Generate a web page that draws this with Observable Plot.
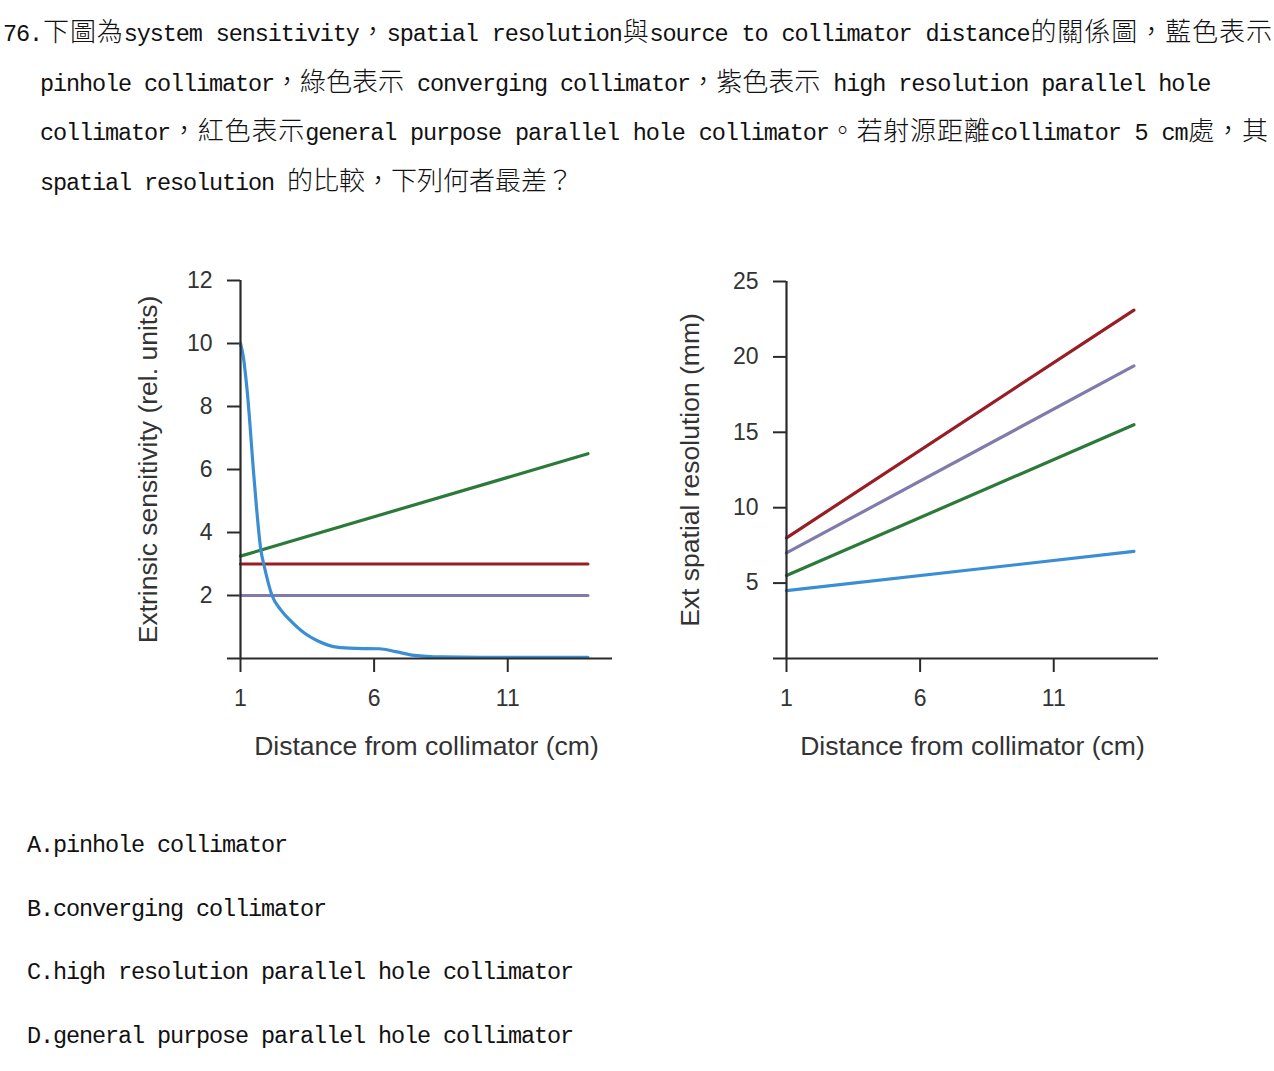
<!DOCTYPE html>
<html>
<head>
<meta charset="utf-8">
<script src="https://cdn.jsdelivr.net/npm/d3@7"></script>
<script src="https://cdn.jsdelivr.net/npm/@observablehq/plot@0.6"></script>
<style>
  html, body { margin: 0; padding: 0; background: #fff; }
  body { width: 1274px; height: 1071px; position: relative; overflow: hidden; }
  .q { position: absolute; font-family: "Noto Sans CJK TC", sans-serif; font-weight: 300; font-size: 26px; line-height: 50px; color: #111; white-space: nowrap; }
  .q.just { white-space: normal; text-align: justify; text-align-last: justify; }
  .lat { font-family: "Liberation Mono", monospace; font-weight: 400; font-size: 23.5px; letter-spacing: -1.1px; }
  .chart { position: absolute; }
</style>
</head>
<body>
<div id="root"></div>
<script>
// ---------- question text ----------
const questionLines = [
  "76.下圖為system sensitivity，spatial resolution與source to collimator distance的關係圖，藍色表示",
  "pinhole collimator，綠色表示 converging collimator，紫色表示 high resolution parallel hole",
  "collimator，紅色表示general purpose parallel hole collimator。若射源距離collimator 5 cm處，其",
  "spatial resolution 的比較，下列何者最差？"
];
const options = [
  "A.pinhole collimator",
  "B.converging collimator",
  "C.high resolution parallel hole collimator",
  "D.general purpose parallel hole collimator"
];

// ---------- chart data ----------
const xTicks = [1, 6, 11];
const sensTicks = [0, 2, 4, 6, 8, 10, 12];
const resTicks = [0, 5, 10, 15, 20, 25];

// Left: extrinsic sensitivity (rel. units)
const lineX = [1, 14];
const sensConverging = [3.25, 6.5];
const sensGeneral = [3, 3];
const sensHighRes = [2, 2];
const pinholeX =    [1,  1.1, 1.26, 1.5, 1.77, 1.87, 2.18, 2.5, 2.87, 3.4, 3.86, 4.6, 5.3, 6.2, 6.8, 7.5, 8.5, 10,   14];
const pinholeSens = [10, 9.6, 8.4,  5.8, 3.4,  3.0,  2.0,  1.55, 1.2, 0.8, 0.57, 0.36, 0.32, 0.31, 0.22, 0.1, 0.05, 0.04, 0.04];

// Right: extrinsic spatial resolution (mm)
const resGeneral = [8, 23.1];
const resHighRes = [7, 19.4];
const resConverging = [5.5, 15.5];
const resPinhole = [4.5, 7.1];

const colors = { pinhole: "#3a8ed3", converging: "#2c7a3a", highRes: "#7f7bab", general: "#981d24" };

// ---------- render text ----------
const cjk = /[\u2E80-\u9FFF\uF900-\uFAFF\uFF00-\uFFEF\u3000-\u303F]/;
function fill(el, str) {
  let cur = "", curC = null;
  const flush = () => {
    if (!cur) return;
    if (curC) el.appendChild(document.createTextNode(cur));
    else { const s = document.createElement("span"); s.className = "lat"; s.textContent = cur; el.appendChild(s); }
    cur = "";
  };
  for (const ch of str) {
    const c = cjk.test(ch);
    if (curC !== null && c !== curC) flush();
    curC = c; cur += ch;
  }
  flush();
}
const root = document.getElementById("root");
const qLayout = [
  { left: 3, top: 5, width: 1269, just: true },
  { left: 40, top: 55, just: false },
  { left: 40, top: 104, width: 1228, just: true },
  { left: 40, top: 154, just: false }
];
questionLines.forEach((t, i) => {
  const d = document.createElement("div");
  const L = qLayout[i];
  d.className = "q" + (L.just ? " just" : "");
  d.style.left = L.left + "px"; d.style.top = L.top + "px";
  if (L.width) d.style.width = L.width + "px";
  fill(d, t);
  root.appendChild(d);
});
const optTops = [816, 880, 943, 1007];
options.forEach((t, i) => {
  const d = document.createElement("div");
  d.className = "q";
  d.style.left = "27px"; d.style.top = optTops[i] + "px";
  fill(d, t);
  root.appendChild(d);
});

// ---------- charts ----------
const rows = (xs, ys) => xs.map((x, i) => ({ x, y: ys[i] }));
const axisColor = "#2a2a2a";
const baseStyle = { fontFamily: "'Liberation Sans', Arial, sans-serif", fontSize: "23px", color: "#333", background: "transparent", overflow: "visible" };

function chart({ left, width, marginLeft, marginRight, marginTop, yDomain, yTicks, yLabel, yLabelDx, series }) {
  const p = Plot.plot({
    width, height: 520,
    marginLeft, marginRight, marginTop, marginBottom: 122,
    style: baseStyle,
    x: { domain: [1, 14.92] },
    y: { domain: yDomain },
    marks: [
      Plot.axisY(yTicks, { tickSize: 13, tickPadding: 15, tickFormat: d => d === 0 ? "" : String(d), label: null, stroke: axisColor, strokeWidth: 2, fill: "#333", fontSize: 23 }),
      Plot.axisX(xTicks, { tickSize: 14, tickPadding: 17, label: null, stroke: axisColor, strokeWidth: 2, fill: "#333", fontSize: 23 }),
      ...series.map(s => Plot.line(s.data, { x: "x", y: "y", stroke: s.color, strokeWidth: 3.2, curve: s.curve || "linear" })),
      Plot.ruleX([1], { stroke: axisColor, strokeWidth: 2.2 }),
      Plot.ruleY([0], { stroke: axisColor, strokeWidth: 2.2 }),
      Plot.text([yLabel], { frameAnchor: "left", textAnchor: "middle", lineAnchor: "middle", dx: yLabelDx, rotate: -90, fontSize: 26.5, fill: "#333" }),
      Plot.text(["Distance from collimator (cm)"], { frameAnchor: "bottom", lineAnchor: "middle", textAnchor: "middle", dy: 88, fontSize: 26.5, fill: "#333" })
    ]
  });
  const wrap = document.createElement("div");
  wrap.className = "chart";
  wrap.style.left = left + "px"; wrap.style.top = "260px";
  wrap.appendChild(p);
  root.appendChild(wrap);
}

chart({
  left: 100, width: 540, marginLeft: 140, marginRight: 28, marginTop: 20,
  yDomain: [0, 12], yTicks: sensTicks,
  yLabel: "Extrinsic sensitivity (rel. units)", yLabelDx: -92,
  series: [
    { data: rows(lineX, sensConverging), color: colors.converging },
    { data: rows(lineX, sensGeneral), color: colors.general },
    { data: rows(lineX, sensHighRes), color: colors.highRes },
    { data: rows(pinholeX, pinholeSens), color: colors.pinhole, curve: "monotone-x" }
  ]
});

chart({
  left: 640, width: 620, marginLeft: 146, marginRight: 102, marginTop: 21,
  yDomain: [0, 25], yTicks: resTicks,
  yLabel: "Ext spatial resolution (mm)", yLabelDx: -96,
  series: [
    { data: rows(lineX, resGeneral), color: colors.general },
    { data: rows(lineX, resHighRes), color: colors.highRes },
    { data: rows(lineX, resConverging), color: colors.converging },
    { data: rows(lineX, resPinhole), color: colors.pinhole }
  ]
});
</script>
</body>
</html>
